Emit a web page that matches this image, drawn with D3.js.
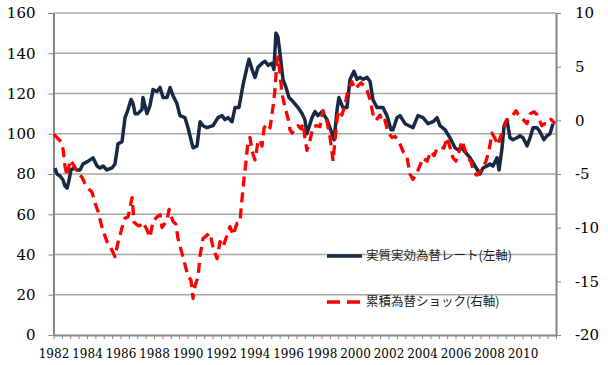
<!DOCTYPE html>
<meta charset="utf-8">
<title>実質実効為替レートと累積為替ショック</title>
<style>
body { margin: 0; background: #fff; }
svg { display: block; }
.axis path, .axis line { stroke: #868686; }
.axis text { font-family: "DejaVu Serif", serif; fill: #000; }
</style>
<body>
<script src="https://cdn.jsdelivr.net/npm/d3@7"></script>
<script>

var width = 608,
    height = 365,
    margin = {top: 13, right: 52, bottom: 30, left: 53.5};

// real effective exchange rate (left axis)
var reerDate = [1982.09, 1982.21, 1982.39, 1982.57, 1982.69, 1982.81, 1982.93, 1983.04, 1983.22, 1983.40,
  1983.58, 1983.76, 1984.00, 1984.18, 1984.36, 1984.60, 1984.78, 1984.96, 1985.19, 1985.49,
  1985.67, 1985.85, 1986.09, 1986.27, 1986.45, 1986.63, 1986.75, 1986.87, 1987.04, 1987.28,
  1987.34, 1987.58, 1987.76, 1987.94, 1988.18, 1988.36, 1988.54, 1988.78, 1988.96, 1989.13,
  1989.37, 1989.55, 1989.85, 1990.03, 1990.33, 1990.57, 1990.75, 1990.93, 1991.16, 1991.52,
  1991.82, 1992.06, 1992.24, 1992.42, 1992.66, 1992.84, 1993.07, 1993.31, 1993.55, 1993.67,
  1993.85, 1994.03, 1994.21, 1994.45, 1994.63, 1994.81, 1995.04, 1995.16, 1995.28, 1995.40,
  1995.52, 1995.70, 1995.88, 1996.06, 1996.30, 1996.60, 1996.84, 1997.01, 1997.13, 1997.43,
  1997.61, 1997.79, 1998.03, 1998.33, 1998.63, 1998.75, 1998.93, 1999.04, 1999.28, 1999.52,
  1999.70, 1999.94, 2000.12, 2000.30, 2000.48, 2000.72, 2000.90, 2001.07, 2001.31, 2001.49,
  2001.67, 2001.91, 2002.15, 2002.27, 2002.51, 2002.69, 2002.99, 2003.46, 2003.76, 2004.06,
  2004.36, 2004.66, 2004.90, 2005.07, 2005.37, 2005.67, 2005.97, 2006.15, 2006.39, 2006.57,
  2006.87, 2007.16, 2007.46, 2007.64, 2007.88, 2008.06, 2008.24, 2008.48, 2008.60, 2008.78,
  2008.90, 2009.07, 2009.25, 2009.43, 2009.67, 2009.85, 2010.03, 2010.27, 2010.45, 2010.63,
  2010.87, 2011.04, 2011.28, 2011.46, 2011.64, 2011.82];
var reerValue = [83, 80, 79, 77, 74, 73, 77, 82, 83, 82,
  82, 85, 86, 87, 88, 84, 83, 84, 82, 83,
  85, 95, 96, 108, 112, 117, 115, 110, 110, 112,
  118, 110, 114, 122, 121, 123, 118, 118, 123, 119,
  115, 109, 108, 103, 93, 94, 106, 104, 103, 104,
  108, 109, 107, 108, 106, 113, 113, 124, 133, 137,
  132, 128, 133, 135, 136, 134, 135, 132, 150, 148,
  140, 127, 123, 118, 116, 113, 110, 107, 100, 108,
  111, 109, 111, 107, 100, 97, 112, 118, 113, 113,
  127, 131, 127, 128, 127, 128, 126, 117, 113, 113,
  113, 109, 102, 102, 108, 109, 105, 103, 109, 108,
  105, 106, 108, 104, 102, 98, 93, 92, 93, 91,
  88, 84, 80, 83, 84, 85, 84, 88, 82, 93,
  104, 107, 98, 97, 98, 99, 98, 94, 98, 103,
  103, 101, 97, 99, 100, 105];

// cumulative exchange rate shock (right axis)
var shockDate = [1982.03, 1982.27, 1982.45, 1982.57, 1982.69, 1982.81, 1982.99, 1983.22, 1983.46, 1983.70,
  1983.88, 1984.12, 1984.30, 1984.48, 1984.66, 1984.90, 1985.19, 1985.37, 1985.67, 1985.85,
  1986.09, 1986.27, 1986.45, 1986.69, 1986.81, 1987.04, 1987.16, 1987.34, 1987.58, 1987.76,
  1987.94, 1988.18, 1988.36, 1988.48, 1988.78, 1988.90, 1989.13, 1989.31, 1989.43, 1989.67,
  1989.91, 1990.03, 1990.21, 1990.33, 1990.45, 1990.63, 1990.75, 1990.93, 1991.16, 1991.34,
  1991.52, 1991.76, 1991.94, 1992.12, 1992.36, 1992.54, 1992.72, 1992.96, 1993.13, 1993.25,
  1993.37, 1993.49, 1993.61, 1993.73, 1993.85, 1994.03, 1994.21, 1994.33, 1994.45, 1994.57,
  1994.75, 1994.93, 1995.10, 1995.22, 1995.34, 1995.40, 1995.52, 1995.64, 1995.82, 1996.00,
  1996.12, 1996.24, 1996.42, 1996.60, 1996.78, 1996.90, 1997.01, 1997.13, 1997.31, 1997.49,
  1997.73, 1997.91, 1998.09, 1998.33, 1998.51, 1998.63, 1998.69, 1998.87, 1998.99, 1999.22,
  1999.40, 1999.58, 1999.82, 2000.00, 2000.18, 2000.36, 2000.54, 2000.72, 2000.90, 2001.07,
  2001.25, 2001.49, 2001.67, 2001.79, 2001.97, 2002.21, 2002.39, 2002.63, 2002.87, 2003.10,
  2003.28, 2003.46, 2003.70, 2003.88, 2004.06, 2004.30, 2004.54, 2004.72, 2004.90, 2005.13,
  2005.31, 2005.49, 2005.67, 2005.85, 2006.03, 2006.21, 2006.39, 2006.51, 2006.69, 2006.93,
  2007.10, 2007.28, 2007.46, 2007.64, 2007.82, 2008.00, 2008.18, 2008.36, 2008.54, 2008.72,
  2008.90, 2009.07, 2009.25, 2009.43, 2009.61, 2009.79, 2010.03, 2010.27, 2010.45, 2010.69,
  2010.87, 2011.16, 2011.34, 2011.52, 2011.70, 2011.94];
var shockValue = [-1.3, -1.7, -2.0, -2.7, -4.3, -5.2, -3.7, -4.2, -4.9, -5.3,
  -5.9, -6.4, -6.7, -7.7, -8.5, -10.0, -11.3, -11.7, -12.7, -11.4,
  -10.0, -9.1, -9.0, -7.2, -9.5, -9.8, -9.8, -9.5, -10.2, -10.9,
  -9.4, -9.0, -8.8, -10.0, -9.3, -8.3, -9.4, -9.7, -11.0, -12.4,
  -13.8, -14.5, -14.9, -16.6, -15.4, -14.6, -12.6, -11.0, -10.7, -10.5,
  -11.8, -12.9, -11.3, -11.8, -10.7, -9.9, -10.7, -9.6, -9.5, -7.4,
  -5.5, -3.9, -2.0, -1.6, -2.9, -3.7, -2.0, -1.8, -2.4, -0.7,
  -0.3, -0.7, 1.2, 2.8, 5.5, 5.9, 4.4, 2.5, 1.2, 0.2,
  -0.9, -1.2, -0.7, -0.5, -0.8, -0.3, -1.6, -2.8, -1.9, -0.6,
  -0.5, -0.6, 0.9, -0.1, -1.6, -3.0, -3.8, -0.8, 0.9, 0.5,
  1.4, 2.8, 3.6, 2.9, 3.2, 3.5, 3.2, 2.8, 1.9, 0.6,
  0.0, 0.5, -0.2, 0.0, -1.1, -1.6, -1.5, -2.0, -2.9, -3.4,
  -5.0, -5.5, -4.9, -4.2, -3.5, -3.8, -2.9, -3.3, -2.6, -2.5,
  -2.6, -1.6, -2.5, -3.5, -3.8, -2.9, -1.9, -2.5, -3.3, -3.9,
  -4.9, -5.1, -4.8, -4.4, -3.8, -2.8, -1.2, -1.7, -2.3, -1.4,
  -0.6, 0.0, 0.2, 0.5, 0.9, 0.4, 0.1, -0.3, 0.6, 0.8,
  0.5, -0.5, -0.3, -0.3, 0.1, -0.3];

var leftTicks = [0, 20, 40, 60, 80, 100, 120, 140, 160],
    rightTicks = [-20, -15, -10, -5, 0, 5, 10],
    yearLabels = d3.range(1982, 2011, 2);

var seriesNames = ["実質実効為替レート(左軸)", "累積為替ショック(右軸)"];

var x = d3.scaleLinear().domain([1982, 2012]).range([margin.left, width - margin.right]),
    yLeft = d3.scaleLinear().domain([0, 160]).range([height - margin.bottom, margin.top]),
    yRight = d3.scaleLinear().domain([-20, 10]).range([height - margin.bottom, margin.top]);

var svg = d3.select("body").append("svg")
    .attr("width", width)
    .attr("height", height);

svg.append("rect").attr("width", width).attr("height", height).attr("fill", "#fff");

// horizontal grid lines
svg.append("g").selectAll("line")
    .data(leftTicks.slice(1))
  .enter().append("line")
    .attr("x1", x(1982)).attr("x2", x(2012))
    .attr("y1", function(d) { return yLeft(d); })
    .attr("y2", function(d) { return yLeft(d); })
    .attr("stroke", "#a6a6a6")
    .attr("stroke-width", 1.3);

var gLeft = svg.append("g")
    .attr("class", "axis")
    .attr("transform", "translate(" + x(1982) + ",0)")
    .call(d3.axisLeft(yLeft).tickValues(leftTicks).tickSize(5).tickPadding(13).tickSizeOuter(0));
gLeft.selectAll("text").style("font-size", "15px");

var gRight = svg.append("g")
    .attr("class", "axis")
    .attr("transform", "translate(" + x(2012) + ",0)")
    .call(d3.axisRight(yRight).tickValues(rightTicks).tickSize(5).tickPadding(14).tickSizeOuter(0)
      .tickFormat(function(d) { return String(d); }));
gRight.selectAll("text").style("font-size", "15px");

var gBottom = svg.append("g")
    .attr("class", "axis")
    .attr("transform", "translate(0," + yLeft(0) + ")")
    .call(d3.axisBottom(x).tickValues(d3.range(1982, 2012.01, 0.5)).tickSize(4).tickSizeOuter(0)
      .tickFormat(function(d) { return yearLabels.indexOf(d) >= 0 ? String(d) : ""; }));
gBottom.selectAll("text").style("font-size", "12px").attr("y", 14);

svg.selectAll(".axis .domain").attr("stroke-width", 2);

var reer = reerDate.map(function(d, i) { return {date: d, value: reerValue[i]}; }),
    shock = shockDate.map(function(d, i) { return {date: d, value: shockValue[i]}; });

var reerLine = d3.line()
    .x(function(d) { return x(d.date); })
    .y(function(d) { return yLeft(d.value); });

var shockLine = d3.line()
    .x(function(d) { return x(d.date); })
    .y(function(d) { return yRight(d.value); });

svg.append("path")
    .datum(reer)
    .attr("d", reerLine)
    .attr("fill", "none")
    .attr("stroke", "#172a45")
    .attr("stroke-width", 3.5)
    .attr("stroke-linejoin", "round");

svg.append("path")
    .datum(shock)
    .attr("d", shockLine)
    .attr("fill", "none")
    .attr("stroke", "#ff0000")
    .attr("stroke-width", 3.3)
    .attr("stroke-dasharray", "10,6")
    .attr("stroke-linejoin", "round");

// legend
var legend = svg.append("g")
    .attr("transform", "translate(327,256)");

legend.append("line")
    .attr("x1", 0).attr("x2", 35).attr("y1", 0).attr("y2", 0)
    .attr("stroke", "#172a45").attr("stroke-width", 3.5);
legend.append("line")
    .attr("x1", 0).attr("x2", 35).attr("y1", 46).attr("y2", 46)
    .attr("stroke", "#ff0000").attr("stroke-width", 3.3)
    .attr("stroke-dasharray", "13,7");

legend.selectAll("text")
    .data(seriesNames)
  .enter().append("text")
    .attr("x", 39)
    .attr("y", function(d, i) { return i * 46; })
    .attr("dy", "0.35em")
    .style("font-family", "'Noto Sans CJK JP', sans-serif")
    .style("font-size", "12.5px")
    .style("fill", "#222")
    .text(function(d) { return d; });

</script>
